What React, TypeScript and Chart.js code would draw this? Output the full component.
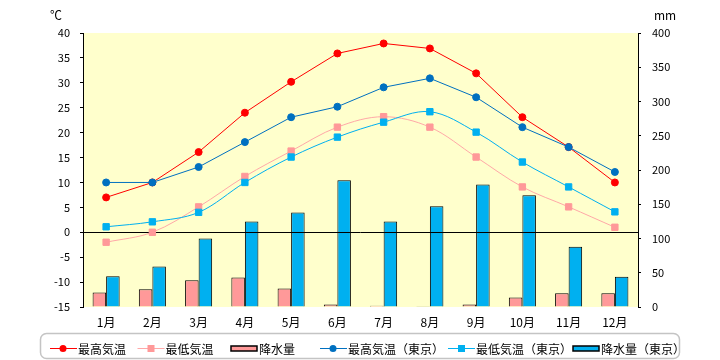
import React, { useEffect, useRef } from 'react';
import { Chart, registerables } from 'chart.js';

Chart.register(...registerables);

const months = ['1月', '2月', '3月', '4月', '5月', '6月', '7月', '8月', '9月', '10月', '11月', '12月'];
const maxTemp = [7, 10, 16.1, 24, 30.2, 35.9, 37.9, 36.9, 31.9, 23.1, 17.1, 10];
const minTemp = [-2, 0, 5.1, 11.2, 16.3, 21.1, 23.2, 21.1, 15.1, 9.1, 5.1, 1];
const precip = [21, 26, 39, 43, 27, 3.5, 2, 1, 3.5, 14, 20, 20];
const tokyoMax = [10, 10, 13.1, 18.1, 23.1, 25.2, 29.1, 30.9, 27.1, 21.1, 17.1, 12.1];
const tokyoMin = [1.1, 2.1, 4, 10, 15.1, 19.1, 22.1, 24.2, 20.1, 14.1, 9.1, 4.1];
const tokyoPrecip = [45, 59, 100, 125, 138, 185, 125, 147, 179, 163, 88, 44];

const tempMin = -15;
const tempMax = 40;
const tempStep = 5;
const precipMin = 0;
const precipMax = 400;
const precipStep = 50;

const tempUnit = '℃';
const precipUnit = 'mm';

const seriesLabels = ['最高気温', '最低気温', '降水量', '最高気温（東京）', '最低気温（東京）', '降水量（東京）'];

const RED = '#FF0000';
const PINK = '#FF9999';
const PINK_LINE = '#FFA8A8';
const BLUE = '#0070C0';
const LIGHT_BLUE = '#00B0F0';
const BG = '#FFFFCC';
const FONT = '"Noto Sans CJK JP", "Noto Sans", sans-serif';

const legendLayout = [
  { x: 50, kind: 'line', color: RED, point: 'circle' },
  { x: 137.5, kind: 'line', color: PINK_LINE, pointColor: PINK, point: 'rect' },
  { x: 231, kind: 'bar', color: PINK },
  { x: 320, kind: 'line', color: BLUE, point: 'circle' },
  { x: 448, kind: 'line', color: LIGHT_BLUE, point: 'rect' },
  { x: 573, kind: 'bar', color: LIGHT_BLUE },
];

const decorPlugin = {
  id: 'decor',
  beforeDraw(chart: any) {
    const { ctx, chartArea } = chart;
    ctx.save();
    ctx.fillStyle = BG;
    ctx.fillRect(chartArea.left, chartArea.top, chartArea.right - chartArea.left, chartArea.bottom - chartArea.top);
    ctx.restore();
  },
  afterDatasetDraw(chart: any, args: any) {
    if (args.index !== 2) return;
    const { ctx, chartArea, scales } = chart;
    const y = Math.round(scales.y.getPixelForValue(0)) + 0.5;
    ctx.save();
    ctx.strokeStyle = '#000';
    ctx.lineWidth = 1;
    ctx.beginPath();
    ctx.moveTo(chartArea.left, y);
    ctx.lineTo(chartArea.right, y);
    ctx.stroke();
    ctx.restore();
  },
  afterDraw(chart: any) {
    const { ctx } = chart;
    ctx.save();
    // units
    ctx.fillStyle = '#000';
    ctx.font = '12px ' + FONT;
    ctx.textBaseline = 'middle';
    ctx.textAlign = 'left';
    ctx.fillText(tempUnit, 50, 15);
    ctx.fillText(precipUnit, 654, 15);

    // legend box
    const bx = 40.5, by = 333.5, bw = 639, bh = 25, r = 6;
    ctx.strokeStyle = '#C4C4C4';
    ctx.lineWidth = 1.5;
    ctx.beginPath();
    ctx.moveTo(bx + r, by);
    ctx.lineTo(bx + bw - r, by);
    ctx.arcTo(bx + bw, by, bx + bw, by + r, r);
    ctx.lineTo(bx + bw, by + bh - r);
    ctx.arcTo(bx + bw, by + bh, bx + bw - r, by + bh, r);
    ctx.lineTo(bx + r, by + bh);
    ctx.arcTo(bx, by + bh, bx, by + bh - r, r);
    ctx.lineTo(bx, by + r);
    ctx.arcTo(bx, by, bx + r, by, r);
    ctx.closePath();
    ctx.stroke();

    const cy = 348;
    legendLayout.forEach((it: any, i: number) => {
      if (it.kind === 'line') {
        ctx.strokeStyle = it.color;
        ctx.lineWidth = 1;
        ctx.beginPath();
        ctx.moveTo(it.x, cy + 0.5);
        ctx.lineTo(it.x + 27, cy + 0.5);
        ctx.stroke();
        ctx.fillStyle = it.pointColor || it.color;
        if (it.point === 'circle') {
          ctx.beginPath();
          ctx.arc(it.x + 13, cy + 0.5, 3.5, 0, Math.PI * 2);
          ctx.fill();
        } else {
          ctx.fillRect(it.x + 10, cy - 3, 7, 7);
        }
      } else {
        ctx.fillStyle = it.color;
        ctx.fillRect(it.x, cy - 2, 26, 5);
        ctx.strokeStyle = '#000';
        ctx.lineWidth = 1.5;
        ctx.strokeRect(it.x, cy - 2, 26, 5);
      }
      ctx.fillStyle = '#000';
      ctx.font = '12px ' + FONT;
      ctx.textAlign = 'left';
      ctx.textBaseline = 'middle';
      ctx.fillText(seriesLabels[i], it.x + 28, cy + 1);
    });
    ctx.restore();
  },
};

export default function App() {
  const ref = useRef<HTMLCanvasElement | null>(null);

  useEffect(() => {
    document.body.style.margin = '0';
    if (!ref.current) return;
    Chart.defaults.font.family = FONT;
    const chart = new Chart(ref.current, {
      type: 'bar',
      data: {
        labels: months,
        datasets: [
          {
            type: 'line',
            label: seriesLabels[0],
            data: maxTemp,
            yAxisID: 'y',
            borderColor: RED,
            backgroundColor: RED,
            borderWidth: 1,
            pointStyle: 'circle',
            pointRadius: 3.5,
            pointBorderWidth: 1,
            pointBorderColor: RED,
            pointBackgroundColor: RED,
            tension: 0,
            order: 1,
          },
          {
            type: 'line',
            label: seriesLabels[1],
            data: minTemp,
            yAxisID: 'y',
            borderColor: PINK_LINE,
            backgroundColor: PINK,
            borderWidth: 1,
            pointStyle: 'rect',
            pointRadius: 4.5,
            pointBorderWidth: 1,
            pointBorderColor: PINK,
            pointBackgroundColor: PINK,
            tension: 0.35,
            order: 3,
          },
          {
            type: 'bar',
            label: seriesLabels[2],
            data: precip,
            yAxisID: 'y1',
            backgroundColor: PINK,
            borderColor: '#000',
            borderWidth: 1,
            barPercentage: 1,
            categoryPercentage: 0.585,
            order: 4,
          },
          {
            type: 'line',
            label: seriesLabels[3],
            data: tokyoMax,
            yAxisID: 'y',
            borderColor: BLUE,
            backgroundColor: BLUE,
            borderWidth: 1,
            pointStyle: 'circle',
            pointRadius: 3.5,
            pointBorderWidth: 1,
            pointBorderColor: BLUE,
            pointBackgroundColor: BLUE,
            tension: 0,
            order: 0,
          },
          {
            type: 'line',
            label: seriesLabels[4],
            data: tokyoMin,
            yAxisID: 'y',
            borderColor: LIGHT_BLUE,
            backgroundColor: LIGHT_BLUE,
            borderWidth: 1,
            pointStyle: 'rect',
            pointRadius: 4.5,
            pointBorderWidth: 1,
            pointBorderColor: LIGHT_BLUE,
            pointBackgroundColor: LIGHT_BLUE,
            tension: 0.35,
            order: 2,
          },
          {
            type: 'bar',
            label: seriesLabels[5],
            data: tokyoPrecip,
            yAxisID: 'y1',
            backgroundColor: LIGHT_BLUE,
            borderColor: '#000',
            borderWidth: 1,
            barPercentage: 1,
            categoryPercentage: 0.585,
            order: 4,
          },
        ] as any,
      },
      options: {
        responsive: true,
        maintainAspectRatio: false,
        animation: false,
        layout: { padding: { top: 33, bottom: 25, left: 0, right: 0 } },
        plugins: {
          legend: { display: false },
          tooltip: { enabled: false },
          title: { display: false },
        },
        scales: {
          x: {
            grid: { display: false },
            border: { display: false },
            ticks: { color: '#000', font: { size: 12, family: FONT }, padding: 0, maxRotation: 0 },
            afterFit: (s: any) => { s.height = 28; },
          },
          y: {
            position: 'left',
            min: tempMin,
            max: tempMax,
            ticks: { stepSize: tempStep, color: '#000', font: { size: 11, family: FONT }, padding: 10 },
            grid: {
              color: 'transparent',
              drawOnChartArea: false,
              drawTicks: true,
              tickLength: 3,
              tickColor: '#000',
            },
            border: { display: true, color: '#000', width: 1 },
            afterFit: (s: any) => { s.width = 83; },
          },
          y1: {
            position: 'right',
            min: precipMin,
            max: precipMax,
            ticks: { stepSize: precipStep, color: '#000', font: { size: 11, family: FONT }, padding: 11 },
            grid: {
              color: 'transparent',
              drawOnChartArea: false,
              drawTicks: true,
              tickLength: 3,
              tickColor: '#000',
            },
            border: { display: true, color: '#000', width: 1 },
            afterFit: (s: any) => { s.width = 82; },
          },
        },
      } as any,
      plugins: [decorPlugin],
    });
    return () => chart.destroy();
  }, []);

  return (
    <div style={{ width: 720, height: 360, position: 'relative', background: '#fff' }}>
      <canvas ref={ref} />
    </div>
  );
}
